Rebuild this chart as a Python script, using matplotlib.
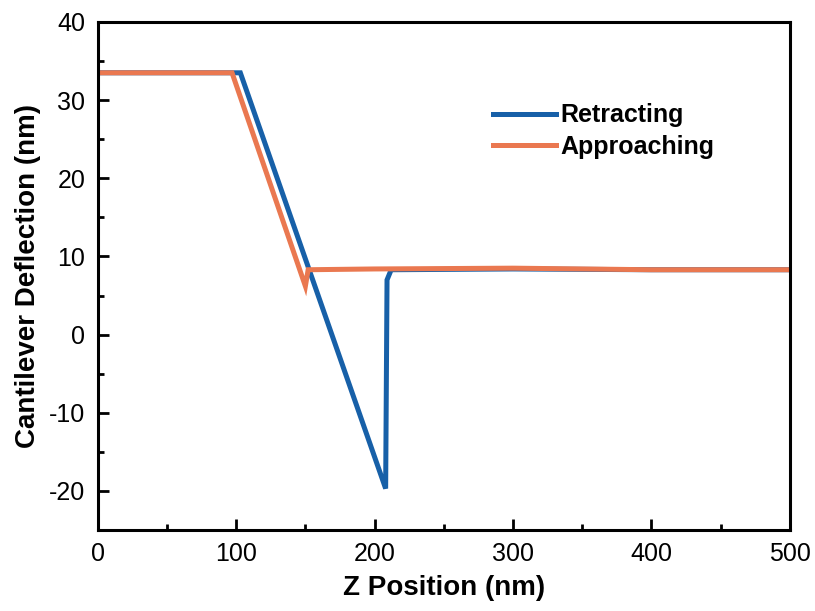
import matplotlib.pyplot as plt
from matplotlib.ticker import MultipleLocator

plt.rcParams["axes.unicode_minus"] = False

# values
retract_z = [0, 103, 208, 209, 212, 300, 400, 500]
retract_defl = [33.5, 33.5, -19.7, 7.0, 8.3, 8.4, 8.3, 8.3]
approach_z = [0, 97, 150, 152, 200, 300, 400, 500]
approach_defl = [33.5, 33.5, 6.2, 8.3, 8.4, 8.5, 8.3, 8.3]

blue = "#1760a8"
orange = "#ea7850"

fig = plt.figure(figsize=(8.15, 6.11), dpi=100)
ax = fig.add_axes([0.120, 0.1326, 0.849, 0.8314])

ax.plot(retract_z, retract_defl, color=blue, lw=3.6, label="Retracting",
        solid_joinstyle="miter")
ax.plot(approach_z, approach_defl, color=orange, lw=3.6, label="Approaching",
        solid_joinstyle="miter")

ax.set_xlim(0, 500)
ax.set_ylim(-25, 40)
ax.xaxis.set_major_locator(MultipleLocator(100))
ax.xaxis.set_minor_locator(MultipleLocator(50))
ax.yaxis.set_major_locator(MultipleLocator(10))
ax.yaxis.set_minor_locator(MultipleLocator(5))

ax.tick_params(which="both", direction="in", width=2, top=False, right=False)
ax.tick_params(which="major", length=8, labelsize=18, pad=9)
ax.tick_params(which="minor", length=4)
for lab in ax.get_xticklabels() + ax.get_yticklabels():
    lab.set_family("Liberation Sans")
for sp in ax.spines.values():
    sp.set_linewidth(2.2)

ax.set_xlabel("Z Position (nm)", fontsize=20, fontweight="bold",
              family="Liberation Sans", labelpad=6)
ax.set_ylabel("Cantilever Deflection (nm)", fontsize=20, fontweight="bold",
              family="Liberation Sans", labelpad=6)

ax.legend(loc="upper left", bbox_to_anchor=(0.539, 0.884), frameon=False,
          prop={"family": "Liberation Sans", "weight": "bold", "size": 18},
          handlelength=2.5, handletextpad=0.2, labelspacing=0.3)

fig.savefig("out.png", dpi=100)
